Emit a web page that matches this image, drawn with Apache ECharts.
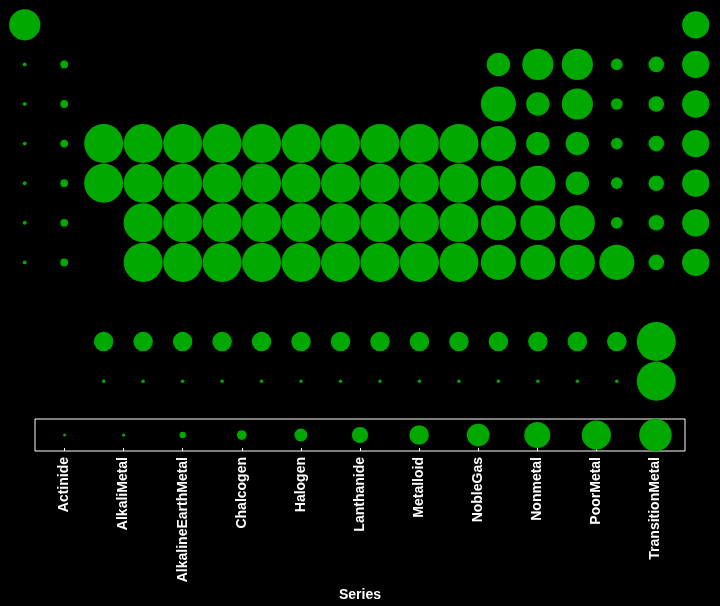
<!DOCTYPE html>
<html>
<head>
<meta charset="utf-8">
<script src="https://cdn.jsdelivr.net/npm/echarts@6/dist/echarts.min.js"></script>
<style>
  html, body { margin: 0; padding: 0; background: #000; }
  #chart { width: 720px; height: 606px; }
</style>
</head>
<body>
<div id="chart"></div>
<script>
// category order, also the order of the size scale
const seriesNames = ['Actinide', 'AlkaliMetal', 'AlkalineEarthMetal', 'Chalcogen', 'Halogen',
  'Lanthanide', 'Metalloid', 'NobleGas', 'Nonmetal', 'PoorMetal', 'TransitionMetal']

const symbols = [
  'H', 'He',
  'Li', 'Be', 'B', 'C', 'N', 'O', 'F', 'Ne',
  'Na', 'Mg', 'Al', 'Si', 'P', 'S', 'Cl', 'Ar',
  'K', 'Ca', 'Sc', 'Ti', 'V', 'Cr', 'Mn', 'Fe', 'Co', 'Ni', 'Cu', 'Zn', 'Ga', 'Ge', 'As', 'Se', 'Br', 'Kr',
  'Rb', 'Sr', 'Y', 'Zr', 'Nb', 'Mo', 'Tc', 'Ru', 'Rh', 'Pd', 'Ag', 'Cd', 'In', 'Sn', 'Sb', 'Te', 'I', 'Xe',
  'Cs', 'Ba', 'Hf', 'Ta', 'W', 'Re', 'Os', 'Ir', 'Pt', 'Au', 'Hg', 'Tl', 'Pb', 'Bi', 'Po', 'At', 'Rn',
  'Fr', 'Ra', 'Rf', 'Db', 'Sg', 'Bh', 'Hs', 'Mt', 'Ds', 'Rg', 'Cn', 'Nh', 'Fl', 'Mc', 'Lv', 'Ts', 'Og',
  'La', 'Ce', 'Pr', 'Nd', 'Pm', 'Sm', 'Eu', 'Gd', 'Tb', 'Dy', 'Ho', 'Er', 'Tm', 'Yb', 'Lu',
  'Ac', 'Th', 'Pa', 'U', 'Np', 'Pu', 'Am', 'Cm', 'Bk', 'Cf', 'Es', 'Fm', 'Md', 'No', 'Lr'
]

const groups = [
  1, 18,
  1, 2, 13, 14, 15, 16, 17, 18,
  1, 2, 13, 14, 15, 16, 17, 18,
  1, 2, 3, 4, 5, 6, 7, 8, 9, 10, 11, 12, 13, 14, 15, 16, 17, 18,
  1, 2, 3, 4, 5, 6, 7, 8, 9, 10, 11, 12, 13, 14, 15, 16, 17, 18,
  1, 2, 4, 5, 6, 7, 8, 9, 10, 11, 12, 13, 14, 15, 16, 17, 18,
  1, 2, 4, 5, 6, 7, 8, 9, 10, 11, 12, 13, 14, 15, 16, 17, 18,
  3, 4, 5, 6, 7, 8, 9, 10, 11, 12, 13, 14, 15, 16, 17,
  3, 4, 5, 6, 7, 8, 9, 10, 11, 12, 13, 14, 15, 16, 17
]

// row 8 is left empty, lanthanides on row 9, actinides on row 10
const periods = [
  1, 1,
  2, 2, 2, 2, 2, 2, 2, 2,
  3, 3, 3, 3, 3, 3, 3, 3,
  4, 4, 4, 4, 4, 4, 4, 4, 4, 4, 4, 4, 4, 4, 4, 4, 4, 4,
  5, 5, 5, 5, 5, 5, 5, 5, 5, 5, 5, 5, 5, 5, 5, 5, 5, 5,
  6, 6, 6, 6, 6, 6, 6, 6, 6, 6, 6, 6, 6, 6, 6, 6, 6,
  7, 7, 7, 7, 7, 7, 7, 7, 7, 7, 7, 7, 7, 7, 7, 7, 7,
  9, 9, 9, 9, 9, 9, 9, 9, 9, 9, 9, 9, 9, 9, 9,
  10, 10, 10, 10, 10, 10, 10, 10, 10, 10, 10, 10, 10, 10, 10
]

const T = 'TransitionMetal', P = 'PoorMetal', N = 'Nonmetal', G = 'NobleGas', M = 'Metalloid'
const A = 'AlkaliMetal', E = 'AlkalineEarthMetal', C = 'Chalcogen', H = 'Halogen'
const L = 'Lanthanide', X = 'Actinide'
const elementSeries = [
  N, G,
  A, E, M, N, N, C, H, G,
  A, E, P, M, N, C, H, G,
  A, E, T, T, T, T, T, T, T, T, T, T, P, M, M, C, H, G,
  A, E, T, T, T, T, T, T, T, T, T, T, P, P, M, C, H, G,
  A, E, T, T, T, T, T, T, T, T, T, P, P, P, C, H, G,
  A, E, T, T, T, T, T, T, T, T, T, P, P, P, P, H, G,
  L, L, L, L, L, L, L, L, L, L, L, L, L, L, T,
  X, X, X, X, X, X, X, X, X, X, X, X, X, X, T
]

const green = '#00a800'
const font = 'Liberation Sans, Arial, sans-serif'

// size scale: diameter grows linearly with the category's position
const mainSize = name => Math.max(3.5, 3.9 * seriesNames.indexOf(name))
const keySize = name => Math.max(3, 3.25 * seriesNames.indexOf(name))

const chart = echarts.init(document.getElementById('chart'))

const option = {
  backgroundColor: '#000',
  animation: false,
  grid: [
    { left: 5, width: 710.5, top: 5, height: 396 },
    { left: 35, width: 650, top: 419, height: 32, show: true, borderColor: '#fff', borderWidth: 1, backgroundColor: 'transparent' }
  ],
  xAxis: [
    { gridIndex: 0, type: 'value', min: 0.5, max: 18.5, show: false },
    {
      gridIndex: 1,
      type: 'category',
      data: seriesNames,
      axisLine: { show: false },
      axisTick: { show: true, inside: true, alignWithLabel: true, length: 3, lineStyle: { color: '#fff' } },
      axisLabel: { rotate: 90, color: '#fff', fontWeight: 'bold', fontSize: 14, fontFamily: font, margin: 6 },
      name: 'Series',
      nameLocation: 'middle',
      nameGap: 137,
      nameTextStyle: { color: '#fff', fontWeight: 'bold', fontSize: 14, fontFamily: font }
    }
  ],
  yAxis: [
    { gridIndex: 0, type: 'value', min: 0.5, max: 10.5, inverse: true, show: false },
    { gridIndex: 1, type: 'value', min: 0, max: 1, show: false }
  ],
  series: [
    {
      type: 'scatter',
      xAxisIndex: 0,
      yAxisIndex: 0,
      data: symbols.map((s, i) => ({ name: s, value: [groups[i], periods[i], elementSeries[i]] })),
      symbolSize: v => mainSize(v[2]),
      itemStyle: { color: green, opacity: 1 }
    },
    {
      type: 'scatter',
      xAxisIndex: 1,
      yAxisIndex: 1,
      data: seriesNames.map(s => [s, 0.5]),
      symbolSize: v => keySize(v[0]),
      itemStyle: { color: green, opacity: 1 }
    }
  ]
}

chart.setOption(option)
window.addEventListener('resize', () => chart.resize())
</script>
</body>
</html>
